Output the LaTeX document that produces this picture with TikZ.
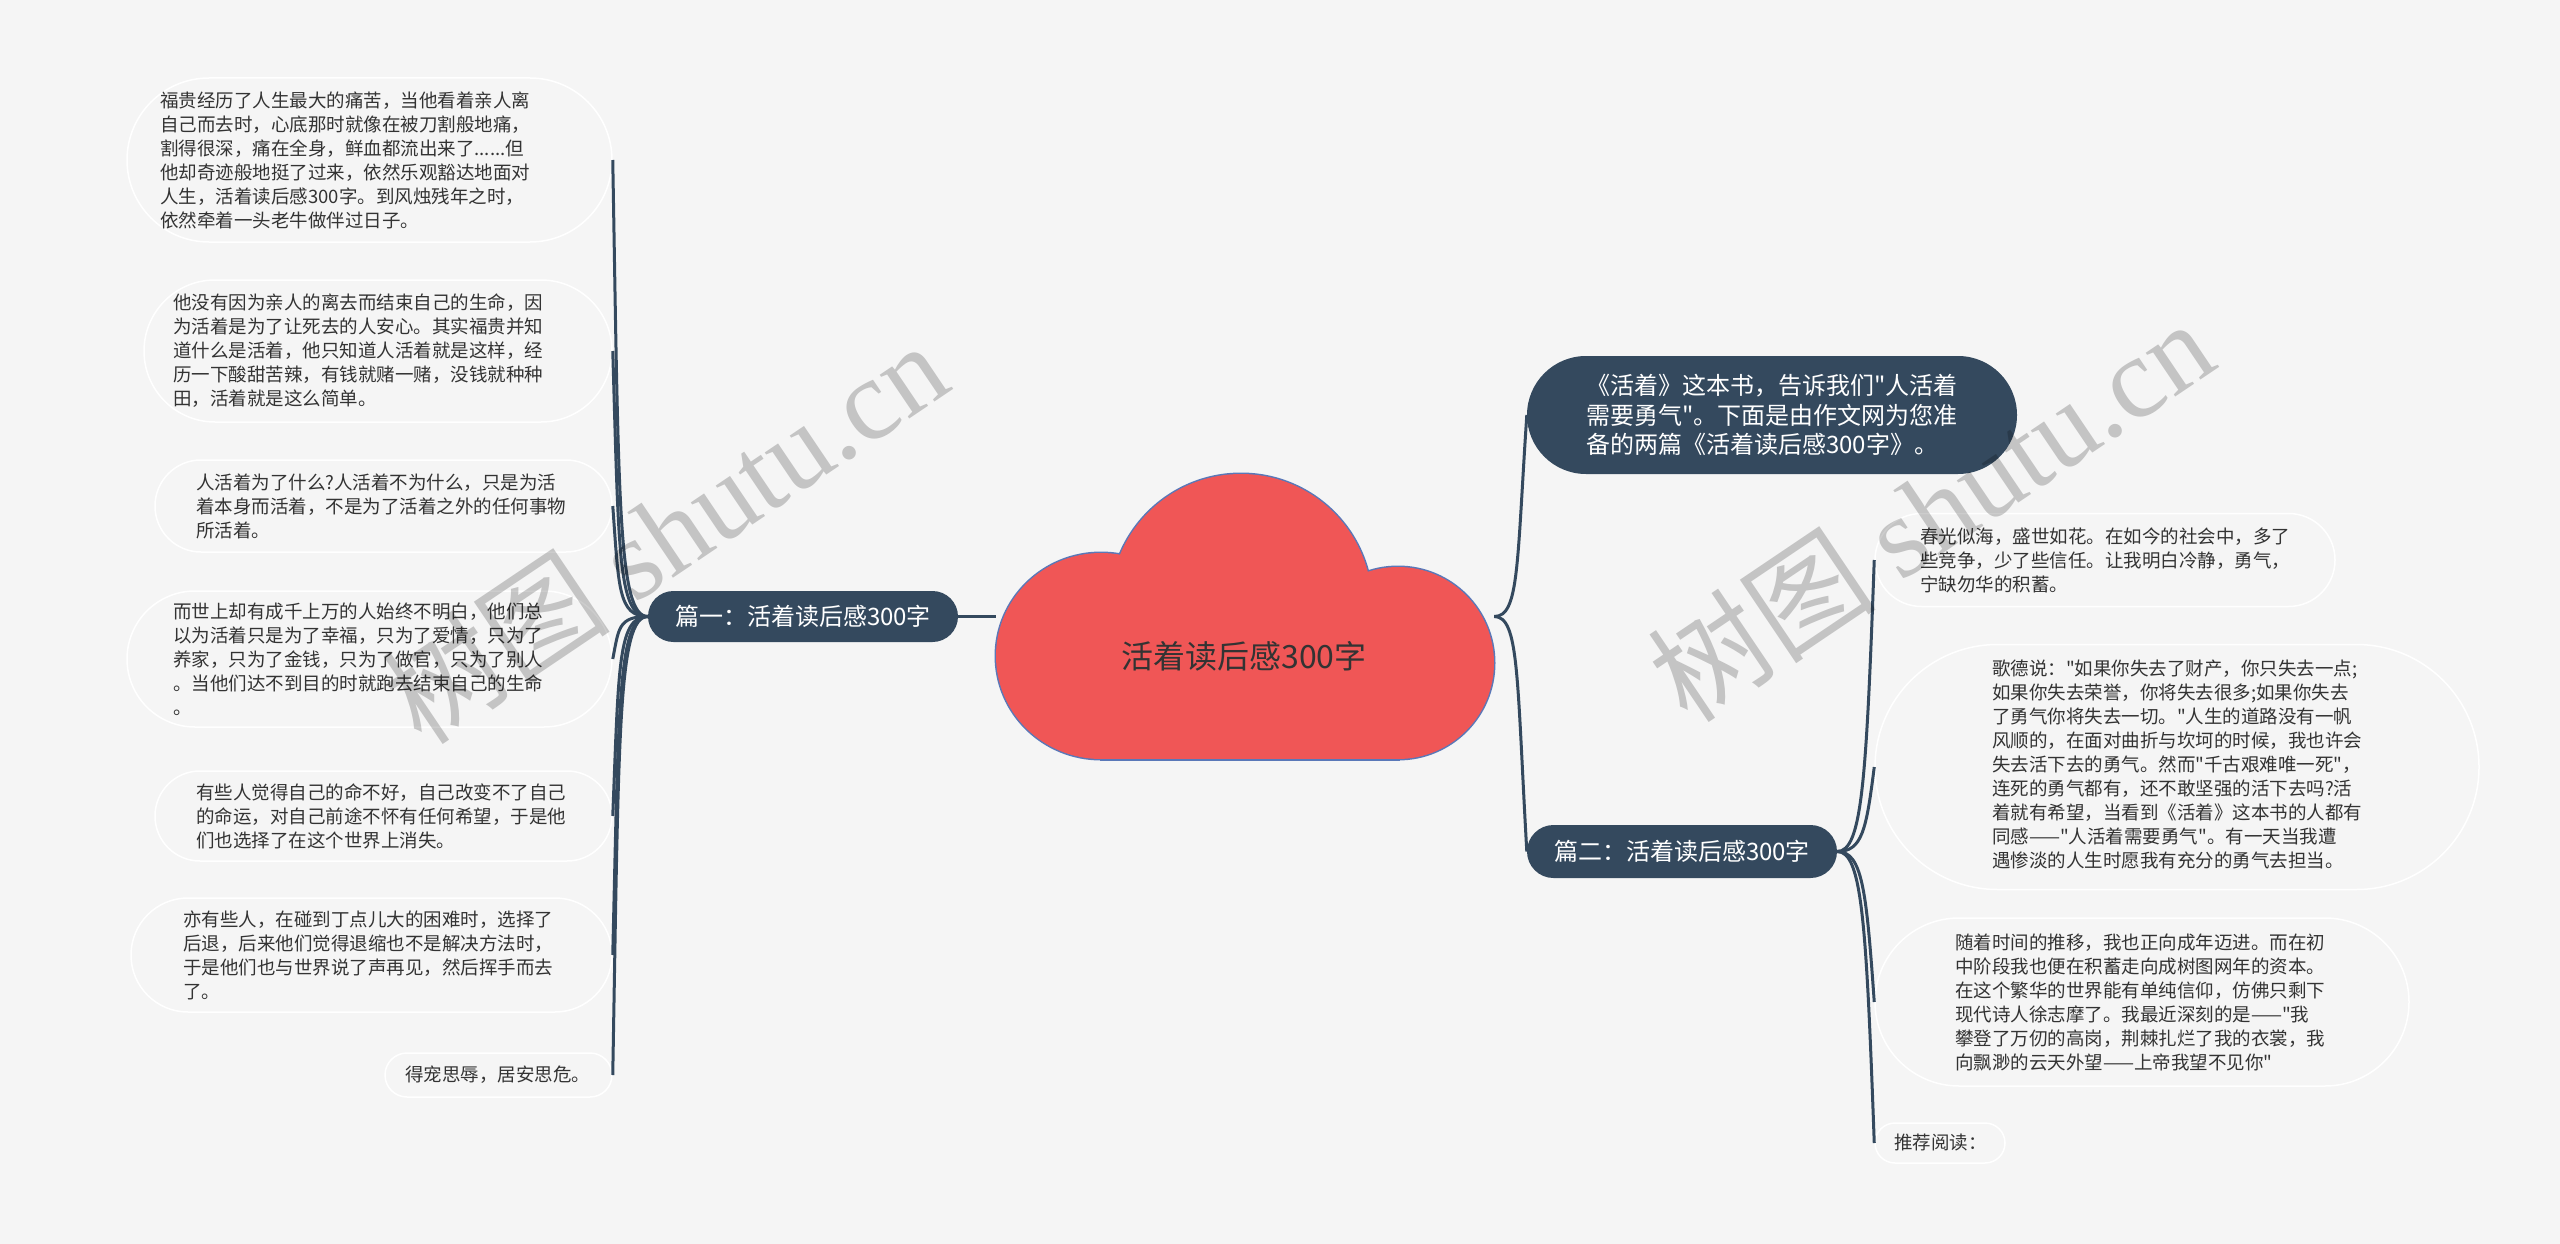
\documentclass[tikz,border=0pt]{standalone}
\usepackage{fontspec}
\setmainfont{Noto Sans CJK SC}
\newfontfamily\cjkfont{Noto Sans CJK SC}
\newfontfamily\wmserif{Liberation Serif}
\usetikzlibrary{shapes.misc}
\definecolor{bg}{HTML}{F5F5F5}
\definecolor{navy}{HTML}{34495E}
\definecolor{cloudred}{HTML}{F05656}
\definecolor{cloudline}{HTML}{5A78B8}
\definecolor{txt}{HTML}{333333}
\begin{document}
\begin{tikzpicture}[x=1pt,y=-1pt,
  pill/.style={rounded rectangle, draw=white, line width=1.5pt, inner sep=0pt},
  leaftext/.style={anchor=west, align=left, inner sep=0pt, text=txt, font=\cjkfont\fontsize{18.5}{24}\selectfont},
  darknode/.style={rounded rectangle, fill=navy, text=white, inner sep=0pt, font=\cjkfont\fontsize{24}{29.5}\selectfont},
  conn/.style={draw=navy, line width=3pt},
  wmark/.style={rotate=34, text=black, opacity=0.2, font=\cjkfont\fontsize{115}{120}\selectfont, inner sep=0pt}]
\useasboundingbox (0,0) rectangle (2560,1244);
\fill[bg] (0,0) rectangle (2560,1244);

% cloud
\draw[cloudline, line width=3pt] (1101,656) ellipse [x radius=105pt, y radius=103pt];
\draw[cloudline, line width=3pt] (1398,663) ellipse [x radius=96pt, y radius=96pt];
\draw[cloudline, line width=3pt] (1101,650) rectangle (1398,759);
\draw[cloudline, line width=3pt] (1241,605) circle [radius=131pt];
\fill[cloudred] (1101,656) ellipse [x radius=105pt, y radius=103pt];
\fill[cloudred] (1398,663) ellipse [x radius=96pt, y radius=96pt];
\fill[cloudred] (1101,650) rectangle (1398,759);
\fill[cloudred] (1241,605) circle [radius=131pt];
\node[minimum width=498pt, minimum height=285pt, inner sep=0pt] (cloud) at (1245,616.5) {};
\node[text=txt, font=\cjkfont\fontsize{32}{36}\selectfont, inner sep=0pt] (ctitle) at (1244,656) {活着读后感300字};

% main branches
\node[darknode, minimum width=310pt, minimum height=51pt] (L) at (803,616.5) {篇一：活着读后感300字};
\node[darknode, minimum width=310pt, minimum height=53pt] (R) at (1682,851.5) {篇二：活着读后感300字};
\node[darknode, minimum width=490pt, minimum height=118pt, align=left] (T) at (1772,415) {《活着》这本书，告诉我们"人活着\\需要勇气"。下面是由作文网为您准\\备的两篇《活着读后感300字》。};

% left leaves
\node[pill, minimum width=485pt, minimum height=164pt] (l1) at (369.5,160) {};
\node[leaftext] (l1t) at (160,160) {福贵经历了人生最大的痛苦，当他看着亲人离\\自己而去时，心底那时就像在被刀割般地痛，\\割得很深，痛在全身，鲜血都流出来了......但\\他却奇迹般地挺了过来，依然乐观豁达地面对\\人生，活着读后感300字。到风烛残年之时，\\依然牵着一头老牛做伴过日子。};

\node[pill, minimum width=468pt, minimum height=142pt] (l2) at (378,351) {};
\node[leaftext] (l2t) at (173,351) {他没有因为亲人的离去而结束自己的生命，因\\为活着是为了让死去的人安心。其实福贵并知\\道什么是活着，他只知道人活着就是这样，经\\历一下酸甜苦辣，有钱就赌一赌，没钱就种种\\田，活着就是这么简单。};

\node[pill, minimum width=457pt, minimum height=92pt] (l3) at (383.5,506) {};
\node[leaftext] (l3t) at (196,506) {人活着为了什么?人活着不为什么，只是为活\\着本身而活着，不是为了活着之外的任何事物\\所活着。};

\node[pill, minimum width=485pt, minimum height=136pt] (l4) at (369.5,659) {};
\node[leaftext] (l4t) at (173,659) {而世上却有成千上万的人始终不明白，他们总\\以为活着只是为了幸福，只为了爱情，只为了\\养家，只为了金钱，只为了做官，只为了别人\\。当他们达不到目的时就跑去结束自己的生命\\。};

\node[pill, minimum width=457pt, minimum height=90pt] (l5) at (383.5,816) {};
\node[leaftext] (l5t) at (196,816) {有些人觉得自己的命不好，自己改变不了自己\\的命运，对自己前途不怀有任何希望，于是他\\们也选择了在这个世界上消失。};

\node[pill, minimum width=481pt, minimum height=114pt] (l6) at (371.5,955) {};
\node[leaftext] (l6t) at (183,955) {亦有些人，在碰到丁点儿大的困难时，选择了\\后退，后来他们觉得退缩也不是解决方法时，\\于是他们也与世界说了声再见，然后挥手而去\\了。};

\node[pill, minimum width=227pt, minimum height=44pt] (l7) at (498.5,1075) {};
\node[leaftext] (l7t) at (405,1075) {得宠思辱，居安思危。};

% right leaves
\node[pill, minimum width=460pt, minimum height=93pt] (r1) at (2105,560) {};
\node[leaftext] (r1t) at (1920,560) {春光似海，盛世如花。在如今的社会中，多了\\些竞争，少了些信任。让我明白冷静，勇气，\\宁缺勿华的积蓄。};

\node[pill, minimum width=604pt, minimum height=245pt] (r2) at (2177,767) {};
\node[leaftext] (r2t) at (1992,764) {歌德说："如果你失去了财产，你只失去一点;\\如果你失去荣誉，你将失去很多;如果你失去\\了勇气你将失去一切。"人生的道路没有一帆\\风顺的，在面对曲折与坎坷的时候，我也许会\\失去活下去的勇气。然而"千古艰难唯一死"，\\连死的勇气都有，还不敢坚强的活下去吗?活\\着就有希望，当看到《活着》这本书的人都有\\同感——"人活着需要勇气"。有一天当我遭\\遇惨淡的人生时愿我有充分的勇气去担当。};

\node[pill, minimum width=534pt, minimum height=168pt] (r3) at (2142,1002) {};
\node[leaftext] (r3t) at (1955,1002) {随着时间的推移，我也正向成年迈进。而在初\\中阶段我也便在积蓄走向成树图网年的资本。\\在这个繁华的世界能有单纯信仰，仿佛只剩下\\现代诗人徐志摩了。我最近深刻的是——"我\\攀登了万仞的高岗，荆棘扎烂了我的衣裳，我\\向飘渺的云天外望——上帝我望不见你"};

\node[pill, minimum width=130pt, minimum height=40pt] (r4) at (1940,1143) {};
\node[leaftext] (r4t) at (1894,1143) {推荐阅读：};

% connectors
\draw[conn] (cloud.west) -- (L.east);
\draw[conn] (cloud.east) .. controls +(25,0) and +(-10,150) .. (T.west);
\draw[conn] (cloud.east) .. controls +(25,0) and +(-10,-175) .. (R.west);

\draw[conn] (L.west) .. controls +(-30,0) and +(6,340) .. (l1.east);
\draw[conn] (L.west) .. controls +(-30,0) and +(6,200) .. (l2.east);
\draw[conn] (L.west) .. controls +(-30,0) and +(6,80) .. (l3.east);
\draw[conn] (L.west) .. controls +(-30,0) and +(6,-30) .. (l4.east);
\draw[conn] (L.west) .. controls +(-30,0) and +(6,-150) .. (l5.east);
\draw[conn] (L.west) .. controls +(-30,0) and +(6,-250) .. (l6.east);
\draw[conn] (L.west) .. controls +(-30,0) and +(6,-340) .. (l7.east);

\draw[conn] (R.east) .. controls +(25,0) and +(-8,220) .. (r1.west);
\draw[conn] (R.east) .. controls +(25,0) and +(-8,63) .. (r2.west);
\draw[conn] (R.east) .. controls +(25,0) and +(-8,-113) .. (r3.west);
\draw[conn] (R.east) .. controls +(25,0) and +(-8,-220) .. (r4.west);

% watermarks
\node[wmark] (wm1) at (664,532) {树图 {\wmserif shutu.cn}};
\node[wmark] (wm2) at (1930,510) {树图 {\wmserif shutu.cn}};
\end{tikzpicture}
\end{document}
